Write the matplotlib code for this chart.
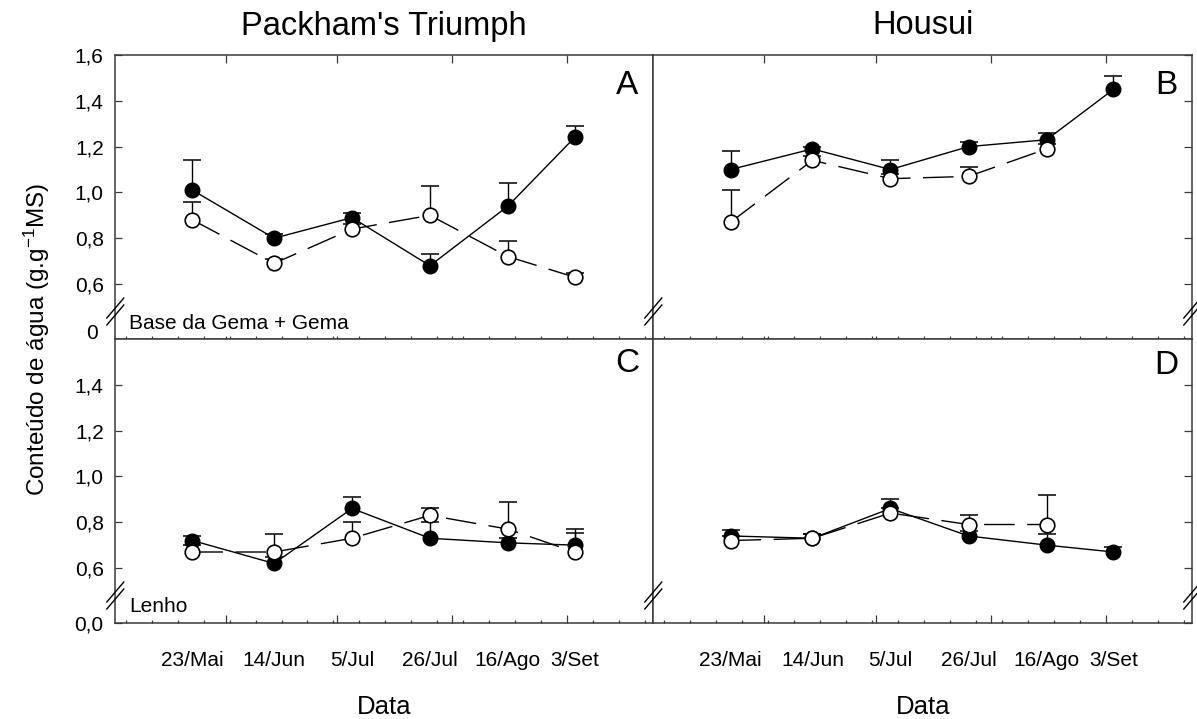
import numpy as np
import matplotlib
matplotlib.use('Agg')
import matplotlib.pyplot as plt
from matplotlib.ticker import FixedLocator
from matplotlib.transforms import ScaledTranslation, blended_transform_factory

plt.rcParams['font.family'] = ['Liberation Sans', 'DejaVu Sans']
plt.rcParams['mathtext.fontset'] = 'custom'
plt.rcParams['mathtext.rm'] = 'Liberation Sans'
plt.rcParams['mathtext.it'] = 'Liberation Sans:italic'
plt.rcParams['mathtext.default'] = 'regular'

# ---------------- data ----------------
dates = ['23/Mai', '14/Jun', '5/Jul', '26/Jul', '16/Ago', '3/Set']
day_of_year = [143, 165, 186, 207, 228, 246]
month_starts = [152, 182, 213, 244]
weekly = list(range(125, 268, 7))

titles = ["Packham's Triumph", 'Housui']
letters = ['A', 'B', 'C', 'D']
regions = ['Base da Gema + Gema', 'Lenho']

# Panel A (Packham's Triumph, base da gema + gema)
a_filled = [1.01, 0.80, 0.89, 0.68, 0.94, 1.24]
a_filled_err = [0.13, 0.02, 0.02, 0.05, 0.10, 0.05]
a_open = [0.88, 0.69, 0.84, 0.90, 0.72, 0.63]
a_open_err = [0.08, 0.02, 0.02, 0.13, 0.07, 0.02]
# Panel B (Housui, base da gema + gema)
b_filled = [1.10, 1.19, 1.10, 1.20, 1.23, 1.45]
b_filled_err = [0.08, 0.01, 0.04, 0.02, 0.03, 0.06]
b_open = [0.87, 1.14, 1.06, 1.07, 1.19, np.nan]
b_open_err = [0.14, 0.02, 0.02, 0.04, 0.02, np.nan]
# Panel C (Packham's Triumph, lenho)
c_filled = [0.72, 0.62, 0.86, 0.73, 0.71, 0.70]
c_filled_err = [0.02, 0.03, 0.05, 0.07, 0.02, 0.07]
c_open = [0.67, 0.67, 0.73, 0.83, 0.77, 0.67]
c_open_err = [0.03, 0.08, 0.07, 0.03, 0.12, 0.085]
# Panel D (Housui, lenho)
d_filled = [0.74, 0.73, 0.86, 0.74, 0.70, 0.67]
d_filled_err = [0.025, 0.02, 0.04, 0.02, 0.05, 0.02]
d_open = [0.72, 0.73, 0.84, 0.79, 0.79, np.nan]
d_open_err = [0.02, 0.02, 0.02, 0.04, 0.13, np.nan]

yticks_top = [0.6, 0.8, 1.0, 1.2, 1.4, 1.6]
yticks_bottom = [0.0, 0.6, 0.8, 1.0, 1.2, 1.4]

# ---------------- broken y scale ----------------
K = 0.28


def fwd(y):
    y = np.asarray(y, dtype=float)
    return np.where(y >= 0.5, y, 0.5 - (0.5 - y) * K)


def inv(u):
    u = np.asarray(u, dtype=float)
    return np.where(u >= 0.5, u, 0.5 - (0.5 - u) / K)


def fmt(v):
    return f'{v:.1f}'.replace('.', ',')


W, H = 1197, 719
fig = plt.figure(figsize=(W / 100, H / 100), dpi=100)
L, M, R = 115.3 / W, 653.3 / W, 1192.3 / W
T, MID, B = 1 - 55 / H, 1 - 339 / H, 1 - 623 / H

spine_col = '#3a3a3a'
TICK_FS = 15

axA = fig.add_axes([L, MID, M - L, T - MID])
axB = fig.add_axes([M, MID, R - M, T - MID])
axC = fig.add_axes([L, B, M - L, MID - B])
axD = fig.add_axes([M, B, R - M, MID - B])

panels = [
    (axA, a_filled, a_filled_err, a_open, a_open_err, True, True),
    (axB, b_filled, b_filled_err, b_open, b_open_err, True, False),
    (axC, c_filled, c_filled_err, c_open, c_open_err, False, True),
    (axD, d_filled, d_filled_err, d_open, d_open_err, False, False),
]

x = np.array(day_of_year, dtype=float)


def draw_series(ax, mean, err, filled):
    mean = np.asarray(mean, dtype=float)
    err = np.asarray(err, dtype=float)
    top = mean + err
    ok = ~np.isnan(mean)
    z = 3 if filled else 5
    ax.vlines(x[ok], mean[ok], top[ok], colors='black', lw=1.0, zorder=z - 1)
    ax.plot(x[ok], top[ok], ls='none', marker='_', ms=13.5, mew=1.1,
            color='black', zorder=z - 1)
    if filled:
        ax.plot(x[ok], mean[ok], color='black', lw=1.0, marker='o', ms=10.5,
                mfc='black', mec='black', zorder=z)
    else:
        ax.plot(x[ok], mean[ok], color='black', lw=1.0, dashes=(22, 9),
                marker='o', ms=10.5, mfc='white', mec='black', mew=1.2,
                zorder=z)


def break_marks(ax, xfrac, yfrac=0.0968):
    bb = ax.get_position()
    wpx, hpx = bb.width * W, bb.height * H
    for off in (-3.5, 3.5):
        ax.plot([xfrac - 8.5 / wpx, xfrac + 8.5 / wpx],
                [yfrac + (off - 10) / hpx, yfrac + (off + 10) / hpx],
                transform=ax.transAxes, color='black', lw=1.0,
                clip_on=False, zorder=10)


for ax, fm, fe, om, oe, is_top, is_left in panels:
    ax.set_yscale('function', functions=(fwd, inv))
    ax.set_ylim(0, 1.6)
    ax.set_xlim(122.2, 267.2)
    for s in ax.spines.values():
        s.set_color(spine_col)
        s.set_linewidth(1.1)

    draw_series(ax, fm, fe, True)
    draw_series(ax, om, oe, False)

    # x ticks
    ax.xaxis.set_major_locator(FixedLocator(month_starts))
    ax.xaxis.set_minor_locator(FixedLocator(weekly))
    if is_top:
        ax.tick_params(axis='x', which='both', direction='in', bottom=True,
                       top=False, labelbottom=False, length=2.2, width=0.9,
                       color=spine_col)
        sec = ax.secondary_xaxis('top')
        sec.set_xticks(month_starts)
        sec.set_xticklabels([])
        sec.tick_params(direction='in', length=6, width=0.9, color=spine_col)
        for s in sec.spines.values():
            s.set_visible(False)
    else:
        ax.tick_params(axis='x', which='major', direction='in', bottom=True,
                       top=False, labelbottom=False, length=6, width=0.9,
                       color=spine_col)
        ax.tick_params(axis='x', which='minor', direction='in', bottom=True,
                       top=False, length=2.2, width=0.9, color=spine_col)
        sec = ax.secondary_xaxis('bottom')
        sec.set_xticks(day_of_year)
        sec.set_xticklabels(dates)
        sec.tick_params(length=0, pad=20, labelsize=TICK_FS)
        for s in sec.spines.values():
            s.set_visible(False)

    # y ticks
    yt = yticks_top if is_top else yticks_bottom
    if is_left:
        ax.yaxis.set_ticks_position('left')
        ax.set_yticks(yt)
        ax.set_yticklabels([fmt(v) for v in yt])
        ax.tick_params(axis='y', direction='in', length=5, width=0.9,
                       pad=8.4, labelsize=TICK_FS, color=spine_col)
    else:
        ax.yaxis.set_ticks_position('right')
        ax.set_yticks(yt)
        ax.tick_params(axis='y', direction='in', length=5.5, width=0.9,
                       labelright=False, labelleft=False, color=spine_col)
    ax.yaxis.set_minor_locator(FixedLocator([]))

    break_marks(ax, 0.0)
    if not is_left:
        break_marks(ax, 1.0)

# "0" label of the upper panels
trans0 = blended_transform_factory(axA.transAxes, axA.transData) + \
    ScaledTranslation(0, 6 / 100, fig.dpi_scale_trans)
axA.text(-0.032, 0.0, '0', transform=trans0, ha='right', va='center',
         fontsize=TICK_FS)

# region labels
axA.text(0.025, 0.035, regions[0], transform=axA.transAxes, fontsize=15,
         ha='left', va='baseline')
axC.text(0.026, 0.04, regions[1], transform=axC.transAxes, fontsize=15,
         ha='left', va='baseline')

# panel letters
for ax, lt, yy in [(axA, letters[0], 0.894), (axB, letters[1], 0.894),
                   (axC, letters[2], 0.912), (axD, letters[3], 0.905)]:
    ax.text(0.951, yy, lt, transform=ax.transAxes, fontsize=24,
            ha='center', va='center')

# titles and axis labels
cx_left = (L + M) / 2
cx_right = (M + R) / 2
fig.text(cx_left, 1 - 26 / H, titles[0], fontsize=23.5, ha='center',
         va='center')
fig.text(cx_right, 1 - 26 / H, titles[1], fontsize=23.5, ha='center',
         va='center')
fig.text(cx_left, 1 - 707 / H, 'Data', fontsize=18.5, ha='center',
         va='center')
fig.text(cx_right, 1 - 707 / H, 'Data', fontsize=18.5, ha='center',
         va='center')
fig.text(0.031, MID, 'Conteúdo de água (g.g$^{-1}$MS)', fontsize=17.5,
         rotation=90, ha='center', va='center')

fig.savefig('out.png', dpi=100)
